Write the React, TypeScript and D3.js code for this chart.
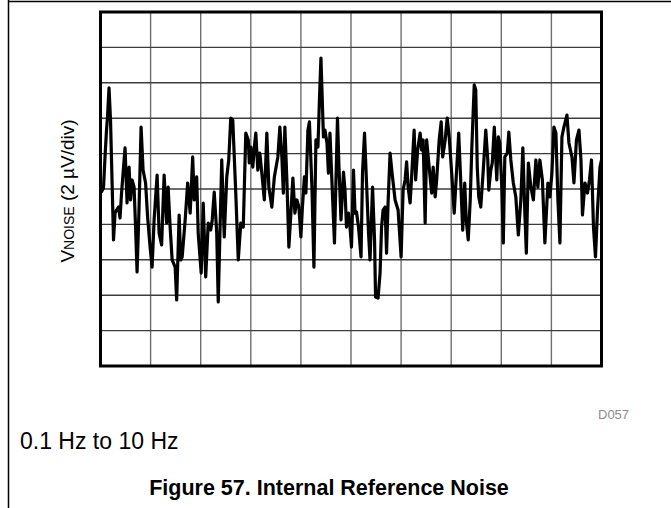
import React from "react";
import * as d3 from "d3";

// Noise trace: time in seconds, voltage in µV (2 µV per division)
const timeS = [
  0.02, 0.06, 0.09, 0.12, 0.14, 0.17, 0.2, 0.22, 0.26, 0.29,
  0.32, 0.36, 0.39, 0.42, 0.49, 0.53, 0.57, 0.6, 0.63, 0.67,
  0.7, 0.73, 0.77, 0.81, 0.85, 0.9, 0.94, 0.99, 1.03, 1.07,
  1.13, 1.17, 1.22, 1.27, 1.32, 1.35, 1.39, 1.43, 1.49, 1.52,
  1.57, 1.6, 1.63, 1.69, 1.74, 1.79, 1.84, 1.87, 1.92, 1.95,
  2.01, 2.05, 2.1, 2.15, 2.2, 2.23, 2.27, 2.32, 2.35, 2.42,
  2.47, 2.52, 2.56, 2.6, 2.64, 2.7, 2.75, 2.8, 2.85, 2.9,
  2.95, 2.97, 3.0, 3.04, 3.07, 3.1, 3.14, 3.18, 3.22, 3.27,
  3.32, 3.36, 3.42, 3.47, 3.54, 3.58, 3.62, 3.65, 3.68, 3.72,
  3.76, 3.8, 3.84, 3.88, 3.92, 3.96, 4.0, 4.03, 4.07, 4.1,
  4.14, 4.17, 4.22, 4.26, 4.3, 4.34, 4.37, 4.4, 4.45, 4.48,
  4.52, 4.55, 4.58, 4.61, 4.67, 4.73, 4.76, 4.8, 4.85, 4.88,
  4.91, 4.95, 4.98, 5.01, 5.05, 5.08, 5.11, 5.15, 5.2, 5.23,
  5.27, 5.31, 5.35, 5.38, 5.43, 5.47, 5.49, 5.54, 5.58, 5.61,
  5.64, 5.68, 5.71, 5.74, 5.78, 5.82, 5.88, 5.94, 6.0, 6.04,
  6.08, 6.11, 6.14, 6.18, 6.21, 6.26, 6.29, 6.33, 6.38, 6.41,
  6.44, 6.48, 6.51, 6.56, 6.61, 6.64, 6.68, 6.71, 6.76, 6.8,
  6.83, 6.88, 6.92, 6.96, 7.01, 7.06, 7.15, 7.19, 7.23, 7.27,
  7.3, 7.34, 7.38, 7.41, 7.46, 7.49, 7.52, 7.55, 7.59, 7.64,
  7.69, 7.73, 7.75, 7.79, 7.82, 7.86, 7.91, 7.94, 7.97, 8.01,
  8.04, 8.07, 8.12, 8.15, 8.19, 8.24, 8.29, 8.34, 8.39, 8.43,
  8.47, 8.5, 8.54, 8.59, 8.64, 8.69, 8.73, 8.77, 8.82, 8.87,
  8.93, 8.97, 9.01, 9.05, 9.09, 9.13, 9.17, 9.21, 9.25, 9.31,
  9.35, 9.41, 9.45, 9.5, 9.55, 9.59, 9.62, 9.67, 9.72, 9.76,
  9.8, 9.84, 9.88, 9.92, 9.97, 10.0,
];

const noiseUV = [
  -0.15, 0.06, 1.81, 3.33, 4.07, 5.71, 3.9, 1.64, -2.88, -1.36,
  -1.19, -1.02, -1.64, -0.23, 2.32, -0.79, 1.24, -0.62, 0.51, 0.11,
  -2.15, -4.69, -1.02, 3.5, 1.07, 0.34, -1.58, -3.28, -4.41, -1.75,
  0.79, -2.49, -3.16, 0.79, -1.92, 0.11, -2.15, -4.01, -4.41, -6.27,
  -1.47, -4.01, -3.84, -1.75, 0.34, -1.36, 1.81, -0.62, 0.68, -2.49,
  -4.75, -0.79, -4.97, -1.92, -2.32, -1.75, -0.17, -2.49, -6.38, 1.64,
  -2.71, 0.68, 1.64, 4.01, 3.9, -0.23, -4.01, -1.92, -2.15, 3.16,
  2.77, 1.47, 2.37, 1.24, 2.37, 3.16, 1.07, 2.03, 0.9, -0.62,
  3.16, 0.11, -1.02, 0.68, 1.81, 3.5, 1.81, -0.23, 3.5, 0.51,
  -3.28, -1.36, 0.62, -1.36, -0.62, -1.02, -2.71, -1.02, 0.68, -0.23,
  3.33, 3.79, 0.11, -4.41, 2.77, 2.37, 5.03, 7.4, 2.94, 3.33,
  2.6, 0.9, 3.16, 1.07, -3.05, 4.01, 1.24, -1.75, 0.96, -0.06,
  -2.15, -1.36, -2.15, -3.28, 1.07, -1.36, -1.3, -2.15, -3.84, 0.9,
  3.16, 0.34, -2.49, -4.01, 0.11, -2.88, -6.1, -6.16, -4.75, -2.15,
  -1.19, -1.02, -3.62, -0.79, 2.03, 0.9, -0.62, -1.19, -3.84, -0.06,
  0.51, 1.53, 0.11, -0.79, 0.68, 3.33, 0.51, 2.2, 3.16, 2.2,
  2.77, -1.92, 2.77, 1.24, -0.23, 1.24, -0.45, 0.51, 2.77, 3.79,
  1.81, 2.77, 4.01, 2.94, 0.9, -1.36, 3.16, 0.45, -2.32, 0.34,
  -1.75, -2.88, -0.62, 2.2, 5.88, 5.59, 1.24, -0.45, -1.02, 1.07,
  3.33, 1.64, -0.06, 1.07, 1.47, 3.5, 0.51, 2.94, 2.6, 0.11,
  -3.05, 1.81, 2.03, 3.22, 1.64, 0.34, -0.45, -2.6, -0.62, 2.32,
  -1.36, -3.62, 1.47, 0.11, -0.62, 1.64, 0.11, 1.64, 0.51, -3.05,
  0.34, -0.45, 0.9, 3.5, 3.16, -0.62, -3.05, 2.94, 3.5, 4.18,
  2.6, 1.81, 0.34, 2.77, 3.33, 1.64, -1.47, 0.34, -0.23, 0.51,
  1.64, -2.15, -3.84, -1.19, 1.24, 1.64,
];

// Grid divisions: 1 s per division horizontally, 2 µV per division vertically
const timeDivisions = d3.range(0, 11, 1);
const voltageDivisions = d3.range(-10, 12, 2);

const W = 671;
const H = 508;
const plot = { left: 100.5, right: 601.5, top: 12, bottom: 366 };
const FONT = "Arial, 'Liberation Sans', Helvetica, sans-serif";

export default function App() {
  const x = d3.scaleLinear().domain([0, 10]).range([plot.left, plot.right]);
  const y = d3.scaleLinear().domain([-10, 10]).range([plot.bottom, plot.top]);

  const points: [number, number][] = timeS
    .slice(0, Math.min(timeS.length, noiseUV.length))
    .map((t, i) => [t, noiseUV[i]]);

  const line = d3
    .line<[number, number]>()
    .x((d) => x(d[0]))
    .y((d) => y(d[1]))
    .curve(d3.curveLinear);

  const innerT = timeDivisions.slice(1, -1);
  const innerV = voltageDivisions.slice(1, -1);

  return (
    <svg
      width={W}
      height={H}
      viewBox={`0 0 ${W} ${H}`}
      style={{ position: "absolute", left: 0, top: 0, background: "#fff" }}
    >
      <rect x={0} y={0} width={W} height={H} fill="#fff" />
      {/* page rules */}
      <line x1={8} x2={W} y1={1.5} y2={1.5} stroke="#000" strokeWidth={1.5} />
      <line x1={8.5} x2={8.5} y1={0} y2={H} stroke="#000" strokeWidth={1.5} />

      {/* grid */}
      <g>
        {innerT.map((t) => (
          <line
            key={`vt${t}`}
            x1={x(t)}
            x2={x(t)}
            y1={plot.top}
            y2={plot.bottom}
            stroke="#6e6e6e"
            strokeWidth={1.4}
          />
        ))}
        {innerV.map((v) => (
          <line
            key={`hv${v}`}
            x1={plot.left}
            x2={plot.right}
            y1={y(v)}
            y2={y(v)}
            stroke="#3c3c3c"
            strokeWidth={1.4}
          />
        ))}
      </g>

      {/* trace */}
      <path
        d={line(points) || ""}
        fill="none"
        stroke="#000"
        strokeWidth={3.2}
        strokeLinejoin="round"
        strokeLinecap="round"
      />

      {/* frame */}
      <rect
        x={plot.left}
        y={plot.top}
        width={plot.right - plot.left}
        height={plot.bottom - plot.top}
        fill="none"
        stroke="#000"
        strokeWidth={3}
      />

      {/* axis title */}
      <text
        transform={`translate(74, ${(plot.top + plot.bottom) / 2 + 2}) rotate(-90)`}
        textAnchor="middle"
        fontFamily={FONT}
        fontSize={19}
        fill="#000"
      >
        V<tspan fontSize={14}>NOISE</tspan> (2 µV/div)
      </text>

      <text x={598} y={419} fontFamily={FONT} fontSize={13} fill="#8c8c8c">
        D057
      </text>

      <text x={20} y={449} fontFamily={FONT} fontSize={23} fill="#000">
        0.1 Hz to 10 Hz
      </text>

      <text
        x={329}
        y={495}
        textAnchor="middle"
        fontFamily={FONT}
        fontSize={21.5}
        fontWeight="bold"
        fill="#000"
      >
        Figure 57. Internal Reference Noise
      </text>
    </svg>
  );
}
